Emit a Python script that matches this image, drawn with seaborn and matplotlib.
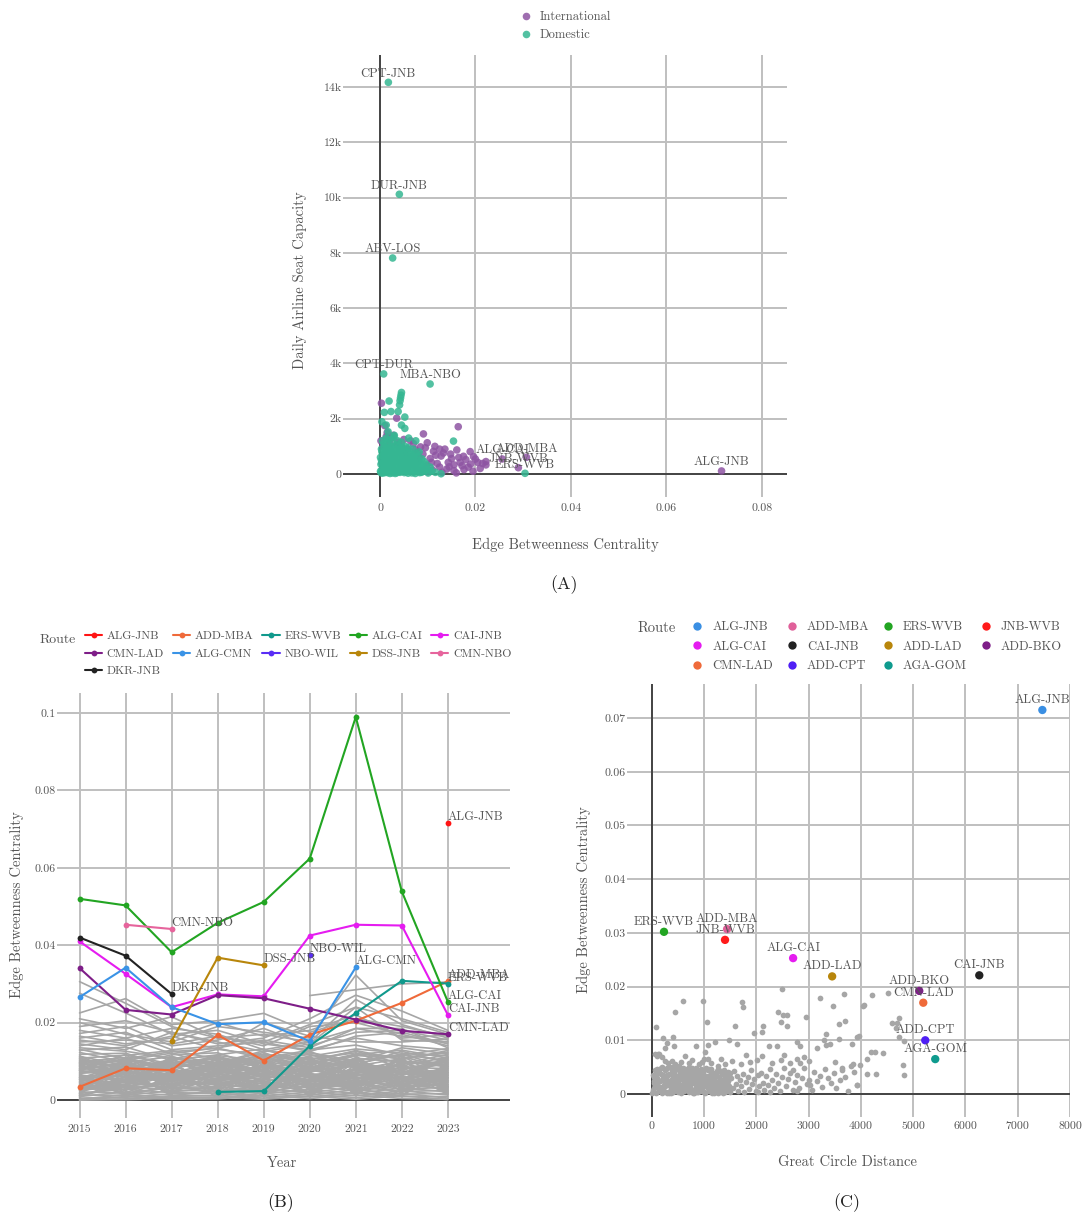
import numpy as np
import pandas as pd
import matplotlib
matplotlib.use("Agg")
import matplotlib.pyplot as plt
import seaborn as sns
from matplotlib.ticker import FixedLocator, FixedFormatter

# ---------------------------------------------------------------- data
# (A) route betweenness vs. daily seat capacity
intl_btw = [0.0003, 0.0035, 0.0164, 0.0091, 0.0099, 0.0136, 0.0161, 0.0189, 0.0196, 0.0222,
            0.0222, 0.0205, 0.0180, 0.0172, 0.0150, 0.0143, 0.0128, 0.0120, 0.0112, 0.0105,
            0.0098, 0.0090, 0.0085, 0.0080, 0.0076, 0.0070, 0.0066, 0.0062, 0.0058, 0.0055,
            0.0050, 0.0047, 0.0044, 0.0040, 0.0036, 0.0033, 0.0030, 0.0027, 0.0024, 0.0021,
            0.0018, 0.0015, 0.0012, 0.0010, 0.0008, 0.0006, 0.0004, 0.0002, 0.0110, 0.0125,
            0.0140, 0.0155, 0.0168, 0.0176, 0.0185, 0.0195, 0.0210, 0.0160, 0.0130, 0.0100,
            0.0088, 0.0072, 0.0060, 0.0052, 0.0045, 0.0038, 0.0025, 0.0020, 0.0016, 0.0013,
            0.0009, 0.0078, 0.0095, 0.0117, 0.0133, 0.0148, 0.0175, 0.0200, 0.0215, 0.0068,
            0.0058, 0.0042, 0.0032, 0.0022, 0.0082, 0.0108, 0.0115, 0.0125, 0.0155, 0.0145,
            0.0190, 0.0165, 0.0074, 0.0064, 0.0054, 0.0048, 0.0028, 0.0019, 0.0011, 0.0007]
intl_cap = [2560, 2020, 1710, 1450, 1130, 900, 870, 810, 630, 450,
            330, 420, 520, 300, 560, 420, 650, 380, 820, 560,
            300, 720, 980, 450, 200, 1100, 640, 380, 900, 150,
            1250, 560, 300, 800, 1050, 450, 650, 200, 1300, 900,
            500, 1500, 300, 1750, 700, 1000, 400, 1200, 150, 250,
            180, 120, 420, 160, 250, 100, 200, 40, 60, 80,
            120, 330, 560, 700, 1000, 1150, 750, 1100, 820, 1350,
            550, 780, 950, 680, 760, 720, 640, 540, 380, 520,
            250, 180, 90, 350, 600, 420, 1000, 900, 330, 260,
            360, 600, 880, 1200, 420, 850, 1400, 230, 950, 150]

dom_btw = [0.0045, 0.0044, 0.0043, 0.0042, 0.0041, 0.0019, 0.0009, 0.0023, 0.0038, 0.0052,
           0.0004, 0.0013, 0.0045, 0.0052, 0.0154, 0.0017, 0.0030, 0.0060, 0.0075,
           0.0002, 0.0004, 0.0006, 0.0008, 0.0010, 0.0012, 0.0014, 0.0016, 0.0018, 0.0020,
           0.0022, 0.0024, 0.0026, 0.0028, 0.0030, 0.0032, 0.0034, 0.0036, 0.0038, 0.0040,
           0.0042, 0.0044, 0.0046, 0.0048, 0.0050, 0.0052, 0.0054, 0.0056, 0.0058, 0.0060,
           0.0062, 0.0064, 0.0066, 0.0068, 0.0070, 0.0072, 0.0075, 0.0078, 0.0081, 0.0084,
           0.0087, 0.0090, 0.0095, 0.0101, 0.0128,
           0.0001, 0.0003, 0.0005, 0.0007, 0.0009, 0.0011, 0.0013, 0.0015, 0.0017, 0.0019,
           0.0021, 0.0023, 0.0025, 0.0027, 0.0029, 0.0031, 0.0033, 0.0035, 0.0037, 0.0039,
           0.0041, 0.0043, 0.0045, 0.0047, 0.0049, 0.0051, 0.0053, 0.0055, 0.0057, 0.0059,
           0.0061, 0.0063, 0.0065, 0.0067, 0.0069, 0.0071, 0.0073, 0.0076, 0.0079, 0.0082,
           0.0085, 0.0088, 0.0092, 0.0097, 0.0105,
           0.0001, 0.0002, 0.0003, 0.0004, 0.0005, 0.0006, 0.0007, 0.0008, 0.0009, 0.0010,
           0.0011, 0.0012, 0.0013, 0.0014, 0.0015, 0.0016, 0.0017, 0.0018, 0.0019, 0.0020,
           0.0021, 0.0022, 0.0023, 0.0024, 0.0025, 0.0026, 0.0027, 0.0028, 0.0029, 0.0030,
           0.0031, 0.0032, 0.0033, 0.0034, 0.0035, 0.0036, 0.0037, 0.0038, 0.0039, 0.0040,
           0.0041, 0.0043, 0.0045, 0.0047, 0.0049, 0.0051, 0.0053, 0.0055, 0.0057, 0.0059,
           0.0061, 0.0063, 0.0065, 0.0067, 0.0069, 0.0071, 0.0074, 0.0077, 0.0080, 0.0083,
           0.0086, 0.0093, 0.0099, 0.0108, 0.0116]
dom_cap = [2950, 2850, 2750, 2650, 2500, 2640, 2230, 2260, 2260, 2060,
           1890, 1770, 1770, 1650, 1190, 1530, 1400, 1300, 1200,
           50, 150, 300, 80, 450, 200, 600, 350, 100, 750,
           250, 500, 900, 150, 650, 380, 1050, 220, 800, 480,
           60, 600, 950, 300, 720, 150, 520, 850, 250, 600,
           100, 420, 700, 200, 500, 80, 350, 620, 180, 400,
           60, 280, 150, 36, 10,
           600, 900, 1200, 700, 1000, 850, 1300, 1100, 950, 1250,
           400, 1000, 1150, 550, 1350, 900, 700, 450, 1200, 1000,
           750, 350, 1150, 550, 850, 400, 1000, 650, 300, 950,
           450, 800, 250, 550, 900, 650, 400, 750, 500, 800,
           300, 550, 450, 350, 250,
           100, 350, 500, 800, 30, 650, 400, 1100, 250, 50,
           550, 750, 120, 900, 400, 50, 650, 800, 300, 500,
           20, 850, 600, 150, 350, 40, 700, 450, 250, 80,
           550, 20, 300, 600, 850, 50, 400, 150, 650, 250,
           900, 500, 100, 350, 200, 50, 300, 80, 450, 30,
           250, 150, 500, 40, 300, 180, 20, 120, 300, 50,
           200, 100, 180, 100, 60]

a_routes = ["CPT-JNB", "DUR-JNB", "ABV-LOS", "CPT-DUR", "MBA-NBO",
            "ALG-JNB", "ADD-MBA", "JNB-WVB", "ALG-CAI", "ERS-WVB"]
a_btw = [0.00175, 0.00405, 0.00265, 0.00077, 0.0105,
         0.0716, 0.0307, 0.0290, 0.0256, 0.0304]
a_cap = [14170, 10120, 7815, 3620, 3256,
         110, 605, 228, 543, 25]
a_type = ["Domestic", "Domestic", "Domestic", "Domestic", "Domestic",
          "International", "International", "International", "International", "Domestic"]

# (B) betweenness by year
years = [2015, 2016, 2017, 2018, 2019, 2020, 2021, 2022, 2023]
nan = np.nan
b_routes = ["ALG-JNB", "ADD-MBA", "ERS-WVB", "ALG-CAI", "CAI-JNB",
            "CMN-LAD", "ALG-CMN", "NBO-WIL", "DSS-JNB", "CMN-NBO", "DKR-JNB"]
b_values = {
    "ALG-JNB": [nan, nan, nan, nan, nan, nan, nan, nan, 0.0716],
    "ADD-MBA": [0.0034, 0.0082, 0.0077, 0.0168, 0.0102, 0.0169, 0.0205, 0.0251, 0.0307],
    "ERS-WVB": [nan, nan, nan, 0.0021, 0.0023, 0.0140, 0.0225, 0.0308, 0.0301],
    "ALG-CAI": [0.0520, 0.0503, 0.0382, 0.0458, 0.0512, 0.0624, 0.0990, 0.0539, 0.0254],
    "CAI-JNB": [0.0410, 0.0326, 0.0240, 0.0273, 0.0268, 0.0425, 0.0453, 0.0451, 0.0220],
    "CMN-LAD": [0.0341, 0.0233, 0.0221, 0.0271, 0.0263, 0.0236, 0.0208, 0.0179, 0.0170],
    "ALG-CMN": [0.0266, 0.0342, 0.0240, 0.0196, 0.0201, 0.0152, 0.0343, nan, nan],
    "NBO-WIL": [nan, nan, nan, nan, nan, 0.0375, nan, nan, nan],
    "DSS-JNB": [nan, nan, 0.0153, 0.0368, 0.0348, nan, nan, nan, nan],
    "CMN-NBO": [nan, 0.0453, 0.0442, nan, nan, nan, nan, nan, nan],
    "DKR-JNB": [0.0420, 0.0373, 0.0274, nan, nan, nan, nan, nan, nan],
}
b_colors = ["#ff1414", "#ef6a3a", "#10998c", "#22a522", "#e51cf0",
            "#7e1e88", "#3a93e6", "#5a2df5", "#b8860b", "#e6649c", "#222222"]

other_routes = [
    [0.0306, 0.0250, 0.0190, 0.0160, 0.0170, 0.0150, 0.0185, 0.0165, 0.0150],
    [0.0276, 0.0225, 0.0170, 0.0180, 0.0145, 0.0130, 0.0160, 0.0140, 0.0130],
    [0.0225, 0.0262, 0.0195, 0.0205, 0.0224, 0.0175, 0.0210, 0.0190, 0.0165],
    [0.0210, 0.0185, 0.0215, 0.0160, 0.0150, 0.0195, 0.0240, 0.0210, 0.0175],
    [0.0200, 0.0170, 0.0150, 0.0190, 0.0175, 0.0160, 0.0323, 0.0205, 0.0170],
    [nan, nan, nan, nan, nan, 0.0270, 0.0285, 0.0300, 0.0305],
    [0.0190, 0.0205, 0.0175, 0.0145, 0.0160, 0.0210, 0.0271, 0.0230, 0.0180],
    [0.0180, 0.0160, 0.0185, 0.0170, 0.0130, 0.0150, 0.0260, 0.0195, 0.0160],
    [0.0172, 0.0190, 0.0140, 0.0155, 0.0185, 0.0140, 0.0175, 0.0180, 0.0155],
    [0.0165, 0.0145, 0.0160, 0.0200, 0.0165, 0.0180, 0.0220, 0.0160, 0.0168],
    [0.0160, 0.0175, 0.0130, 0.0140, 0.0150, 0.0125, 0.0165, 0.0175, 0.0145],
    [0.0155, 0.0140, 0.0165, 0.0130, 0.0200, 0.0165, 0.0150, 0.0150, 0.0158],
    [0.0150, 0.0155, 0.0145, 0.0165, 0.0140, 0.0190, 0.0200, 0.0170, 0.0140],
    [0.0145, 0.0130, 0.0175, 0.0150, 0.0125, 0.0145, 0.0240, 0.0155, 0.0150],
    [0.0140, 0.0160, 0.0120, 0.0135, 0.0155, 0.0135, 0.0185, 0.0185, 0.0135],
    [0.0123, 0.0098, 0.0112, 0.0087, 0.0119, 0.0104, 0.0126, 0.0093, 0.0118],
    [0.0118, 0.0121, 0.0084, 0.0109, 0.0095, 0.0122, 0.0101, 0.0117, 0.0102],
    [0.0113, 0.0089, 0.0117, 0.0122, 0.0083, 0.0097, 0.0115, 0.0108, 0.0124],
    [0.0108, 0.0116, 0.0093, 0.0078, 0.0112, 0.0085, 0.0091, 0.0126, 0.0096],
    [0.0104, 0.0079, 0.0105, 0.0115, 0.0101, 0.0118, 0.0082, 0.0088, 0.0111],
    [0.0099, 0.0110, 0.0072, 0.0094, 0.0123, 0.0076, 0.0108, 0.0099, 0.0087],
    [0.0094, 0.0087, 0.0099, 0.0068, 0.0088, 0.0109, 0.0095, 0.0079, 0.0105],
    [0.0090, 0.0102, 0.0081, 0.0103, 0.0071, 0.0092, 0.0119, 0.0112, 0.0083],
    [0.0086, 0.0068, 0.0095, 0.0085, 0.0097, 0.0065, 0.0077, 0.0101, 0.0092],
    [0.0081, 0.0093, 0.0063, 0.0077, 0.0079, 0.0101, 0.0087, 0.0072, 0.0078],
    [0.0077, 0.0058, 0.0088, 0.0097, 0.0066, 0.0083, 0.0069, 0.0094, 0.0099],
    [0.0073, 0.0084, 0.0076, 0.0059, 0.0091, 0.0071, 0.0104, 0.0066, 0.0072],
    [0.0069, 0.0075, 0.0054, 0.0082, 0.0061, 0.0088, 0.0062, 0.0085, 0.0081],
    [0.0065, 0.0049, 0.0070, 0.0066, 0.0075, 0.0058, 0.0081, 0.0059, 0.0067],
    [0.0061, 0.0071, 0.0061, 0.0051, 0.0057, 0.0079, 0.0056, 0.0076, 0.0063],
    [0.0057, 0.0062, 0.0047, 0.0073, 0.0069, 0.0052, 0.0073, 0.0053, 0.0071],
    [0.0053, 0.0044, 0.0066, 0.0055, 0.0048, 0.0067, 0.0049, 0.0068, 0.0058],
    [0.0049, 0.0057, 0.0051, 0.0043, 0.0063, 0.0046, 0.0065, 0.0047, 0.0054],
    [0.0045, 0.0038, 0.0042, 0.0062, 0.0041, 0.0059, 0.0043, 0.0061, 0.0049],
    [0.0041, 0.0052, 0.0058, 0.0037, 0.0054, 0.0039, 0.0058, 0.0041, 0.0057],
    [0.0037, 0.0033, 0.0036, 0.0048, 0.0034, 0.0053, 0.0036, 0.0055, 0.0045],
    [0.0033, 0.0046, 0.0031, 0.0030, 0.0045, 0.0032, 0.0051, 0.0034, 0.0040],
    [0.0029, 0.0027, 0.0044, 0.0041, 0.0028, 0.0044, 0.0029, 0.0048, 0.0036],
    [0.0025, 0.0036, 0.0025, 0.0024, 0.0037, 0.0026, 0.0042, 0.0028, 0.0033],
    [0.0021, 0.0018, 0.0033, 0.0034, 0.0022, 0.0036, 0.0023, 0.0039, 0.0029],
    [0.0017, 0.0028, 0.0019, 0.0017, 0.0030, 0.0019, 0.0034, 0.0022, 0.0025],
    [0.0013, 0.0012, 0.0024, 0.0026, 0.0016, 0.0028, 0.0017, 0.0031, 0.0021],
    [0.0009, 0.0021, 0.0012, 0.0011, 0.0023, 0.0013, 0.0027, 0.0015, 0.0017],
    [0.0005, 0.0007, 0.0016, 0.0018, 0.0010, 0.0021, 0.0011, 0.0024, 0.0013],
    [0.0002, 0.0014, 0.0006, 0.0006, 0.0017, 0.0008, 0.0019, 0.0009, 0.0009],
    [0.0001, 0.0003, 0.0009, 0.0012, 0.0005, 0.0015, 0.0006, 0.0017, 0.0005],
    [0.0000, 0.0009, 0.0002, 0.0003, 0.0011, 0.0004, 0.0013, 0.0004, 0.0002],
    [0.0000, 0.0001, 0.0004, 0.0008, 0.0002, 0.0010, 0.0002, 0.0011, 0.0001],
    [nan, 0.0115, 0.0128, 0.0106, 0.0093, 0.0113, 0.0132, 0.0121, 0.0114],
    [nan, nan, 0.0105, 0.0131, 0.0116, 0.0098, 0.0128, 0.0104, 0.0128],
    [0.0135, 0.0126, 0.0108, 0.0096, 0.0127, 0.0117, 0.0099, 0.0135, 0.0119],
    [0.0131, 0.0107, 0.0125, 0.0134, 0.0108, 0.0129, 0.0142, 0.0116, 0.0133],
    [0.0128, 0.0137, 0.0102, 0.0117, 0.0132, 0.0091, 0.0117, 0.0129, 0.0108],
    [0.0097, 0.0103, 0.0121, 0.0089, 0.0104, 0.0125, 0.0088, 0.0107, 0.0122],
    [0.0088, 0.0076, 0.0091, 0.0113, 0.0082, 0.0106, 0.0122, 0.0083, 0.0094],
    [0.0079, 0.0096, 0.0069, 0.0088, 0.0110, 0.0073, 0.0093, 0.0118, 0.0086],
    [0.0031, 0.0053, 0.0078, 0.0046, 0.0087, 0.0062, 0.0034, 0.0072, 0.0051],
    [0.0058, 0.0026, 0.0049, 0.0093, 0.0031, 0.0074, 0.0088, 0.0037, 0.0064],
    [0.0084, 0.0066, 0.0023, 0.0057, 0.0079, 0.0034, 0.0061, 0.0091, 0.0027],
    [0.0012, 0.0039, 0.0067, 0.0028, 0.0052, 0.0086, 0.0047, 0.0019, 0.0076],
    [0.0046, 0.0081, 0.0035, 0.0071, 0.0014, 0.0049, 0.0096, 0.0058, 0.0039],
    [0.0101, 0.0059, 0.0083, 0.0039, 0.0068, 0.0093, 0.0024, 0.0045, 0.0089],
    [0.0067, 0.0014, 0.0056, 0.0099, 0.0043, 0.0022, 0.0071, 0.0103, 0.0034],
    [0.0024, 0.0092, 0.0041, 0.0014, 0.0096, 0.0057, 0.0039, 0.0063, 0.0101],
    [0.0092, 0.0035, 0.0104, 0.0064, 0.0025, 0.0081, 0.0107, 0.0028, 0.0055],
    [0.0039, 0.0072, 0.0015, 0.0101, 0.0059, 0.0111, 0.0016, 0.0082, 0.0044],
    [0.0110, 0.0047, 0.0062, 0.0021, 0.0106, 0.0041, 0.0078, 0.0054, 0.0110],
    [0.0015, 0.0105, 0.0088, 0.0052, 0.0036, 0.0068, 0.0053, 0.0096, 0.0019],
    [0.0053, 0.0024, 0.0110, 0.0080, 0.0050, 0.0017, 0.0100, 0.0036, 0.0083],
    [0.0076, 0.0118, 0.0029, 0.0092, 0.0115, 0.0063, 0.0032, 0.0115, 0.0047],
    [0.0107, 0.0083, 0.0097, 0.0106, 0.0019, 0.0099, 0.0084, 0.0068, 0.0104],
    [0.0019, 0.0061, 0.0021, 0.0033, 0.0081, 0.0030, 0.0067, 0.0026, 0.0071],
    [0.0063, 0.0031, 0.0074, 0.0044, 0.0027, 0.0095, 0.0058, 0.0049, 0.0024],
    [0.0036, 0.0088, 0.0052, 0.0075, 0.0104, 0.0027, 0.0045, 0.0086, 0.0061],
    [0.0097, 0.0016, 0.0033, 0.0111, 0.0063, 0.0051, 0.0029, 0.0010, 0.0097],
    [0.0007, 0.0054, 0.0094, 0.0036, 0.0077, 0.0012, 0.0091, 0.0052, 0.0033],
    [0.0081, 0.0108, 0.0018, 0.0068, 0.0040, 0.0104, 0.0064, 0.0078, 0.0014],
    [0.0028, 0.0041, 0.0085, 0.0005, 0.0093, 0.0045, 0.0110, 0.0031, 0.0087],
    [0.0055, 0.0097, 0.0046, 0.0089, 0.0021, 0.0070, 0.0019, 0.0099, 0.0058],
    [0.0114, 0.0063, 0.0107, 0.0049, 0.0085, 0.0016, 0.0080, 0.0041, 0.0068],
    [0.0042, 0.0019, 0.0060, 0.0096, 0.0008, 0.0089, 0.0037, 0.0107, 0.0022],
    [0.0071, 0.0077, 0.0011, 0.0025, 0.0101, 0.0056, 0.0098, 0.0021, 0.0080],
    [0.0017, 0.0110, 0.0079, 0.0061, 0.0047, 0.0032, 0.0072, 0.0065, 0.0107],
    [0.0088, 0.0045, 0.0039, 0.0108, 0.0072, 0.0114, 0.0012, 0.0090, 0.0040],
    [0.0034, 0.0069, 0.0101, 0.0015, 0.0034, 0.0078, 0.0055, 0.0014, 0.0065],
    [0.0103, 0.0029, 0.0068, 0.0083, 0.0113, 0.0025, 0.0105, 0.0057, 0.0030],
    [0.0049, 0.0091, 0.0027, 0.0054, 0.0065, 0.0098, 0.0041, 0.0080, 0.0092],
    [0.0011, 0.0036, 0.0113, 0.0073, 0.0018, 0.0061, 0.0026, 0.0102, 0.0036],
    [0.0077, 0.0100, 0.0057, 0.0031, 0.0089, 0.0037, 0.0069, 0.0047, 0.0113],
    [0.0026, 0.0052, 0.0090, 0.0112, 0.0055, 0.0084, 0.0114, 0.0035, 0.0050],
    [0.0059, 0.0012, 0.0037, 0.0070, 0.0098, 0.0009, 0.0085, 0.0070, 0.0075],
    [0.0094, 0.0074, 0.0064, 0.0019, 0.0038, 0.0066, 0.0044, 0.0109, 0.0016],
]

# (C) betweenness vs. great circle distance
c_routes = ["ALG-JNB", "ADD-MBA", "ERS-WVB", "JNB-WVB", "ALG-CAI", "CAI-JNB",
            "ADD-LAD", "ADD-BKO", "CMN-LAD", "ADD-CPT", "AGA-GOM"]
c_dist = [7471, 1437, 230, 1398, 2701, 6264, 3448, 5115, 5192, 5230, 5421]
c_btw = [0.0715, 0.0307, 0.0302, 0.0287, 0.0253, 0.0221, 0.0219, 0.0192, 0.0170, 0.0100, 0.0065]
c_colors = ["#3a8fe3", "#e0609a", "#22a522", "#ff1a1a", "#e51cf0", "#222222",
            "#b8860b", "#7e1e88", "#ef6a3a", "#4f1ff5", "#0f9b8e"]

gc_dist = [
    77, 434, 599, 983, 1047, 1590, 1731, 1750, 1954, 2101, 2133, 2420, 2503, 2592, 2465,
    2580, 2484, 2944, 3225, 3461, 3678, 3582, 3685, 3333, 4029, 4055, 4202, 4521, 3967,
    4726, 4687, 4598, 4674, 4815, 4802, 4828, 217, 281, 249, 408, 421, 115, 1015,
    15, 40, 65, 90, 115, 140, 165, 190, 215, 240, 265, 290, 315, 340, 365, 390, 415, 440,
    465, 490, 515, 540, 565, 590, 615, 640, 665, 690, 715, 740, 765, 790, 815, 840, 865,
    890, 915, 940, 965, 990, 1015, 1040, 1065, 1090, 1115, 1140, 1165, 1190, 1215, 1240,
    1265, 1290, 1315, 1340, 1365, 1390, 1415, 1440, 1465, 1490,
    30, 55, 80, 105, 130, 155, 180, 205, 230, 255, 280, 305, 330, 355, 380, 405, 430,
    455, 480, 505, 530, 555, 580, 605, 630, 655, 680, 705, 730, 755, 780, 805, 830, 855,
    880, 905, 930, 955, 980, 1005, 1030, 1055, 1080, 1105, 1130, 1155, 1180, 1205, 1230,
    1255, 1280, 1305, 1330, 1355, 1380, 1405, 1430, 1455, 1480,
    10, 45, 75, 100, 125, 160, 195, 225, 250, 285, 310, 345, 370, 400, 425, 460, 495,
    520, 550, 575, 600, 635, 660, 695, 720, 750, 775, 810, 835, 870, 900, 925, 960, 995,
    1020, 1050, 1085, 1120, 1150, 1185, 1210, 1245, 1275, 1300, 1335, 1360, 1395, 1425,
    1460, 1495,
    1520, 1545, 1570, 1600, 1625, 1650, 1680, 1710, 1740, 1770, 1800, 1830, 1860, 1890,
    1920, 1950, 1985, 2020, 2050, 2085, 2120, 2150, 2185, 2220, 2255, 2290, 2330, 2370,
    2410, 2450, 2490, 2530, 2570, 2610, 2650, 2690, 2730, 2780, 2820, 2870, 2910, 2960,
    3010, 3060, 3110, 3160, 3210, 3260, 3310, 3370, 3420, 3480, 3530, 3590, 3640, 3700,
    3760, 3810, 3870, 3930,
    60, 100, 140, 200, 250, 300, 380, 450, 520, 560, 640, 700, 760, 842, 900, 960, 1000,
    1078, 1078, 1130, 1206, 1260, 1330, 1400, 1480, 1540, 1621, 1700, 1800, 1880, 2016,
    2100, 2245, 2386, 2300, 2460, 2520, 2640, 2769, 2836, 2769, 2900, 2832, 2705, 3000,
    3152, 3289, 3321, 3404, 3576, 3821, 3929, 3500, 3644, 3853, 3981, 4109, 4109, 4287,
    4185, 4268, 4415, 4733, 3929, 3021, 2769, 2260, 2034,
    20, 70, 120, 170, 220, 270, 320, 370, 420, 470, 520, 570, 620, 670, 720, 770, 820,
    870, 920, 970, 1020, 1070, 1120, 1170, 1220, 1270, 1320, 1370, 1420, 1470,
    35, 85, 135, 185, 235, 285, 335, 385, 435, 485, 535, 585, 635, 685, 735, 785, 835,
    885, 935, 985, 1035, 1085, 1135, 1185, 1235, 1285, 1335, 1385, 1435, 1485]
gc_btw = [
    0.0125, 0.0152, 0.0174, 0.0174, 0.0135, 0.0127, 0.0171, 0.0162, 0.0114, 0.0115, 0.0126,
    0.0152, 0.0148, 0.0147, 0.0135, 0.0126, 0.0195, 0.0144, 0.0178, 0.0163, 0.0186, 0.0131,
    0.0136, 0.0111, 0.0163, 0.0165, 0.0184, 0.0189, 0.0108, 0.0141, 0.0132, 0.0133, 0.0123,
    0.0098, 0.0054, 0.0035, 0.0104, 0.0095, 0.0086, 0.0106, 0.0090, 0.0075, 0.0079,
    0.0008, 0.0032, 0.0015, 0.0047, 0.0022, 0.0005, 0.0038, 0.0027, 0.0011, 0.0044, 0.0019,
    0.0034, 0.0003, 0.0050, 0.0025, 0.0013, 0.0041, 0.0030, 0.0007, 0.0046, 0.0018, 0.0036,
    0.0009, 0.0049, 0.0023, 0.0014, 0.0040, 0.0031, 0.0004, 0.0045, 0.0020, 0.0035, 0.0010,
    0.0048, 0.0026, 0.0016, 0.0042, 0.0029, 0.0006, 0.0044, 0.0021, 0.0033, 0.0012, 0.0047,
    0.0024, 0.0008, 0.0039, 0.0028, 0.0015, 0.0043, 0.0019, 0.0031, 0.0005, 0.0037, 0.0022,
    0.0011, 0.0034, 0.0026, 0.0009, 0.0040,
    0.0020, 0.0045, 0.0002, 0.0030, 0.0041, 0.0013, 0.0049, 0.0035, 0.0006, 0.0027, 0.0048,
    0.0016, 0.0038, 0.0009, 0.0044, 0.0021, 0.0052, 0.0012, 0.0033, 0.0003, 0.0042, 0.0028,
    0.0017, 0.0037, 0.0046, 0.0007, 0.0024, 0.0050, 0.0013, 0.0039, 0.0002, 0.0030, 0.0021,
    0.0043, 0.0008, 0.0034, 0.0047, 0.0018, 0.0025, 0.0004, 0.0048, 0.0030, 0.0017, 0.0036,
    0.0045, 0.0002, 0.0020, 0.0033, 0.0007, 0.0046, 0.0012, 0.0026, 0.0043, 0.0016, 0.0035,
    0.0004, 0.0020, 0.0041, 0.0014,
    0.0001, 0.0011, 0.0026, 0.0039, 0.0012, 0.0024, 0.0001, 0.0033, 0.0014, 0.0002, 0.0024,
    0.0016, 0.0037, 0.0003, 0.0027, 0.0020, 0.0012, 0.0029, 0.0001, 0.0031, 0.0011, 0.0028,
    0.0021, 0.0013, 0.0035, 0.0008, 0.0027, 0.0001, 0.0016, 0.0033, 0.0009, 0.0022, 0.0038,
    0.0014, 0.0001, 0.0023, 0.0006, 0.0032, 0.0015, 0.0001, 0.0025, 0.0010, 0.0004, 0.0018,
    0.0027, 0.0002, 0.0030, 0.0012, 0.0024, 0.0003,
    0.0029, 0.0011, 0.0042, 0.0019, 0.0033, 0.0006, 0.0027, 0.0015, 0.0038, 0.0003, 0.0023,
    0.0031, 0.0010, 0.0045, 0.0018, 0.0028, 0.0005, 0.0035, 0.0014, 0.0040, 0.0021, 0.0008,
    0.0033, 0.0017, 0.0046, 0.0026, 0.0011, 0.0037, 0.0020, 0.0005, 0.0032, 0.0049, 0.0015,
    0.0028, 0.0040, 0.0007, 0.0022, 0.0036, 0.0012, 0.0030, 0.0049, 0.0019, 0.0027, 0.0008,
    0.0041, 0.0024, 0.0033, 0.0013, 0.0046, 0.0030, 0.0020, 0.0039, 0.0011, 0.0027, 0.0048,
    0.0032, 0.0006, 0.0053, 0.0041, 0.0017,
    0.0075, 0.0070, 0.0074, 0.0068, 0.0061, 0.0057, 0.0062, 0.0055, 0.0053, 0.0060, 0.0070,
    0.0058, 0.0063, 0.0090, 0.0056, 0.0060, 0.0066, 0.0092, 0.0065, 0.0058, 0.0097, 0.0052,
    0.0066, 0.0055, 0.0100, 0.0061, 0.0094, 0.0056, 0.0072, 0.0060, 0.0063, 0.0070, 0.0090,
    0.0090, 0.0058, 0.0064, 0.0072, 0.0057, 0.0097, 0.0090, 0.0066, 0.0068, 0.0057, 0.0045,
    0.0062, 0.0085, 0.0100, 0.0091, 0.0094, 0.0103, 0.0093, 0.0106, 0.0060, 0.0045, 0.0055,
    0.0054, 0.0066, 0.0038, 0.0038, 0.0079, 0.0078, 0.0076, 0.0107, 0.0017, 0.0017, 0.0006,
    0.0004, 0.0004,
    0.0036, 0.0014, 0.0043, 0.0007, 0.0030, 0.0046, 0.0019, 0.0002, 0.0038, 0.0025, 0.0010,
    0.0041, 0.0005, 0.0032, 0.0017, 0.0049, 0.0023, 0.0004, 0.0039, 0.0013, 0.0029, 0.0045,
    0.0008, 0.0034, 0.0020, 0.0001, 0.0041, 0.0026, 0.0015, 0.0036,
    0.0024, 0.0040, 0.0009, 0.0051, 0.0017, 0.0035, 0.0001, 0.0028, 0.0044, 0.0014, 0.0039,
    0.0006, 0.0025, 0.0047, 0.0011, 0.0031, 0.0042, 0.0003, 0.0027, 0.0037, 0.0017, 0.0008,
    0.0046, 0.0022, 0.0034, 0.0011, 0.0007, 0.0044, 0.0021, 0.0029]

# ---------------------------------------------------------------- style
sns.set_theme(style="white")
plt.rcParams["font.family"] = ["cmr10", "DejaVu Serif"]
plt.rcParams["axes.formatter.use_mathtext"] = True
plt.rcParams["mathtext.fontset"] = "cm"

TEXT = "#555555"
GRID = "#bfbfbf"
ZERO = "#444444"
GRAY = "#a6a6a6"
W, H = 1084, 1218

fig = plt.figure(figsize=(W / 100, H / 100), dpi=100)


def box(left, top, right, bottom):
    return [left / W, 1 - bottom / H, (right - left) / W, (bottom - top) / H]


def frame(ax, xticks, xlabels, yticks, ylabels, xpad, ypad):
    for s in ax.spines.values():
        s.set_visible(False)
    ax.set_axisbelow(True)
    ax.grid(True, color=GRID, lw=1.4)
    ax.xaxis.set_major_locator(FixedLocator(xticks))
    ax.xaxis.set_major_formatter(FixedFormatter(xlabels))
    ax.yaxis.set_major_locator(FixedLocator(yticks))
    ax.yaxis.set_major_formatter(FixedFormatter(ylabels))
    ax.tick_params(axis="x", length=0, pad=xpad, colors=TEXT, labelsize=8.5)
    ax.tick_params(axis="y", length=0, pad=ypad, colors=TEXT, labelsize=8.5)
    ax.set_xlabel("")
    ax.set_ylabel("")


def ftext(x, y, s, **kw):
    kw.setdefault("color", TEXT)
    fig.text(x / W, 1 - y / H, s, ha="center", va="center", **kw)


# ---------------------------------------------------------------- (A)
axA = fig.add_axes(box(343, 55, 787, 497))
dfA = pd.concat([
    pd.DataFrame({"Betweenness": intl_btw, "Capacity": intl_cap, "Type": "International"}),
    pd.DataFrame({"Betweenness": a_btw, "Capacity": a_cap, "Type": a_type}),
    pd.DataFrame({"Betweenness": dom_btw, "Capacity": dom_cap, "Type": "Domestic"}),
], ignore_index=True)
sns.scatterplot(data=dfA, x="Betweenness", y="Capacity", hue="Type",
                hue_order=["International", "Domestic"],
                palette=["#8e55a3", "#35b792"], s=30, linewidth=0, alpha=0.85, ax=axA)
axA.axvline(0, color=ZERO, lw=1.4, zorder=0.8)
axA.axhline(0, color=ZERO, lw=1.4, zorder=0.8)
axA.set_xlim(-0.00776, 0.08532)
axA.set_ylim(-832, 15159)
frame(axA, [0, 0.02, 0.04, 0.06, 0.08], ["0", "0.02", "0.04", "0.06", "0.08"],
      [0, 2000, 4000, 6000, 8000, 10000, 12000, 14000],
      ["0", "2k", "4k", "6k", "8k", "10k", "12k", "14k"], 4.5, 1)
for r, x, y in zip(a_routes, a_btw, a_cap):
    axA.annotate(r, (x, y), xytext=(0, 2), textcoords="offset points",
                 ha="center", va="bottom", fontsize=9, color=TEXT)
hA, lA = axA.get_legend_handles_labels()
axA.get_legend().remove()
fig.legend(hA, lA, loc="upper left", bbox_to_anchor=(520 / W, 1 - 11 / H),
           frameon=False, fontsize=9, handlelength=1.0, handletextpad=0.6,
           labelspacing=0.5, borderpad=0, borderaxespad=0, labelcolor=TEXT)
ftext(300, 280, "Daily Airline Seat Capacity", rotation=90, fontsize=10.5)
ftext(565, 545, "Edge Betweenness Centrality", fontsize=10.5)
ftext(564, 585, "(A)", fontsize=13, color="#222222")

# ---------------------------------------------------------------- (B)
axB = fig.add_axes(box(57, 693, 510, 1118))
gray_long = pd.DataFrame(
    [(i, yr, v) for i, vals in enumerate(other_routes) for yr, v in zip(years, vals)
     if not np.isnan(v)], columns=["Route", "Year", "Betweenness"])
sns.lineplot(data=gray_long, x="Year", y="Betweenness", units="Route", estimator=None,
             color=GRAY, lw=1.2, legend=False, ax=axB)
hl_long = pd.DataFrame(
    [(r, yr, v) for r in b_routes for yr, v in zip(years, b_values[r]) if not np.isnan(v)],
    columns=["Route", "Year", "Betweenness"])
sns.lineplot(data=hl_long, x="Year", y="Betweenness", hue="Route", hue_order=b_routes,
             palette=b_colors, estimator=None, lw=1.5, marker="o", markersize=4.2,
             markeredgewidth=0, ax=axB)
axB.axhline(0, color=ZERO, lw=1.4, zorder=0.8)
axB.set_xlim(2014.51, 2024.35)
axB.set_ylim(-0.00465, 0.1052)
frame(axB, years, [str(y) for y in years],
      [0, 0.02, 0.04, 0.06, 0.08, 0.1], ["0", "0.02", "0.04", "0.06", "0.08", "0.1"], 5, 1)
for r in b_routes:
    vals = b_values[r]
    k = max(i for i, v in enumerate(vals) if not np.isnan(v))
    axB.annotate(r, (years[k], vals[k]), xytext=(0, 0), textcoords="offset points",
                 ha="left", va="bottom", fontsize=9, color=TEXT)
hB, lB = axB.get_legend_handles_labels()
axB.get_legend().remove()
orderB = ["ALG-JNB", "CMN-LAD", "DKR-JNB", "ADD-MBA", "ALG-CMN", "ERS-WVB",
          "NBO-WIL", "ALG-CAI", "DSS-JNB", "CAI-JNB", "CMN-NBO"]
mapB = dict(zip(lB, hB))
fig.legend([mapB[k] for k in orderB], orderB, ncol=5, loc="upper left",
           bbox_to_anchor=(85 / W, 1 - 631 / H), frameon=False, fontsize=8.5,
           handlelength=1.45, handletextpad=0.4, columnspacing=0.75,
           labelspacing=0.62, borderpad=0, borderaxespad=0, labelcolor=TEXT)
fig.text(40 / W, 1 - 640 / H, "Route", ha="left", va="center", fontsize=10, color=TEXT)
ftext(17, 905, "Edge Betweenness Centrality", rotation=90, fontsize=10.5)
ftext(282, 1163, "Year", fontsize=10.5)
ftext(281, 1203, "(B)", fontsize=13, color="#222222")

# ---------------------------------------------------------------- (C)
axC = fig.add_axes(box(627, 684, 1070, 1117))
sns.scatterplot(x=gc_dist, y=gc_btw, color=GRAY, s=17, linewidth=0, ax=axC)
dfC = pd.DataFrame({"Route": c_routes, "Distance": c_dist, "Betweenness": c_btw})
sns.scatterplot(data=dfC, x="Distance", y="Betweenness", hue="Route", hue_order=c_routes,
                palette=c_colors, s=36, linewidth=0, ax=axC)
axC.axvline(0, color=ZERO, lw=1.4, zorder=0.8)
axC.axhline(0, color=ZERO, lw=1.4, zorder=0.8)
axC.set_xlim(-478, 8000)
axC.set_ylim(-0.00428, 0.07634)
frame(axC, list(range(0, 8001, 1000)), [str(v) for v in range(0, 8001, 1000)],
      [0, 0.01, 0.02, 0.03, 0.04, 0.05, 0.06, 0.07],
      ["0", "0.01", "0.02", "0.03", "0.04", "0.05", "0.06", "0.07"], 3, 1)
for r, x, y in zip(c_routes, c_dist, c_btw):
    axC.annotate(r, (x, y), xytext=(0, 3), textcoords="offset points",
                 ha="center", va="bottom", fontsize=9, color=TEXT)
hC, lC = axC.get_legend_handles_labels()
axC.get_legend().remove()
orderC = ["ALG-JNB", "ALG-CAI", "CMN-LAD", "ADD-MBA", "CAI-JNB", "ADD-CPT",
          "ERS-WVB", "ADD-LAD", "AGA-GOM", "JNB-WVB", "ADD-BKO"]
mapC = dict(zip(lC, hC))
fig.legend([mapC[k] for k in orderC], orderC, ncol=4, loc="upper left",
           bbox_to_anchor=(691 / W, 1 - 621 / H), frameon=False, fontsize=9,
           handlelength=1.0, handletextpad=0.7, columnspacing=1.0,
           labelspacing=0.6, borderpad=0, borderaxespad=0, labelcolor=TEXT)
fig.text(637 / W, 1 - 628 / H, "Route", ha="left", va="center", fontsize=10.5, color=TEXT)
ftext(584, 900, "Edge Betweenness Centrality", rotation=90, fontsize=10.5)
ftext(847, 1162, "Great Circle Distance", fontsize=10.5)
ftext(847, 1203, "(C)", fontsize=13, color="#222222")

fig.savefig("out.png", dpi=100)
